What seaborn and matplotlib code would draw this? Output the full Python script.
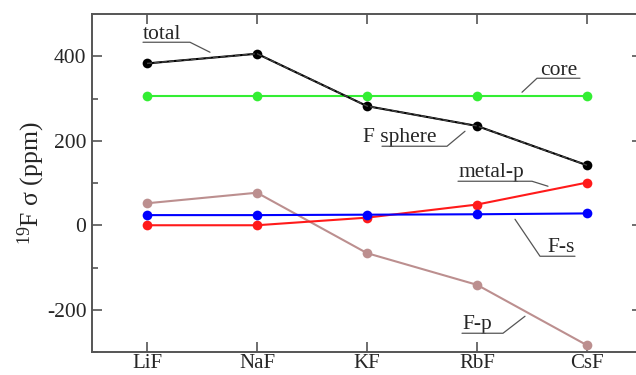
import pandas as pd
import seaborn as sns
import matplotlib.pyplot as plt

salts = ["LiF", "NaF", "KF", "RbF", "CsF"]
total = [383, 406, 282, 235, 142]
f_sphere = [383, 406, 282, 235, 142]
core = [306, 306, 306, 306, 306]
metal_p = [0, 0, 18, 49, 101]
f_s = [24, 24, 25, 26, 28]
f_p = [52, 77, -66, -141, -284]

series = {
    "F-p": f_p,
    "metal-p": metal_p,
    "F-s": f_s,
    "core": core,
    "total": total,
}
colors = {
    "F-p": "#bc8f8f",
    "metal-p": "#ff1a1a",
    "F-s": "#0000ff",
    "core": "#33ee33",
    "total": "#000000",
}

rows = []
for name, vals in series.items():
    for i, v in enumerate(vals):
        rows.append({"pos": i, "value": v, "series": name})
df = pd.DataFrame(rows)

sns.set_style("ticks")
plt.rcParams["font.family"] = ["Liberation Serif", "DejaVu Serif"]
plt.rcParams["mathtext.fontset"] = "custom"
plt.rcParams["mathtext.rm"] = "Liberation Serif"
plt.rcParams["axes.unicode_minus"] = False

fig = plt.figure(figsize=(6.36, 3.75), dpi=100)
ax = fig.add_axes([92 / 636, 23 / 375, 550 / 636, 338 / 375])

sns.lineplot(data=df, x="pos", y="value", hue="series", palette=colors,
             marker="o", markersize=7, markeredgewidth=0, linewidth=1.5,
             legend=False, ax=ax, zorder=3)
sns.lineplot(x=list(range(len(salts))), y=f_sphere, color="#444444",
             linestyle="--", linewidth=1.0, ax=ax, zorder=4)

ax.set_xlim(-0.5, 4.5)
ax.set_ylim(-300, 500)
ax.set_xticks(range(len(salts)))
ax.set_xticklabels(salts)
ax.set_yticks([-200, 0, 200, 400])
ax.set_yticks([-300, -100, 100, 300], minor=True)
ax.tick_params(which="both", direction="in", top=True, right=True,
               labelsize=15.5, color="#555555", width=1.2)
ax.tick_params(which="major", length=7, pad=4)
ax.tick_params(which="minor", length=4)
ax.tick_params(axis="x", which="major", labelsize=15, pad=1.5)
for sp in ax.spines.values():
    sp.set_color("#555555")
    sp.set_linewidth(1.4)
ax.set_xlabel("")
ax.set_ylabel(r"$\mathrm{^{19}}$F σ (ppm)", fontsize=18.5, labelpad=0)


def px(x, y):
    return ((x - 147) / 110, 400 - (y - 57) * 200 / 84.5)


def label(text, tx, ty, pts, fs=15.5):
    x, y = px(tx, ty)
    ax.text(x, y, text, fontsize=fs, ha="left", va="baseline", zorder=5)
    xs, ys = zip(*[px(a, b) for a, b in pts])
    ax.plot(xs, ys, color="#555555", linewidth=0.9, zorder=5)


label("total", 143, 40, [(143, 43), (190, 43), (210, 53)])
label("core", 540, 76, [(580, 79), (537, 79), (522, 93)])
label("F sphere", 363, 143, [(382, 147), (447, 147), (465, 132)])
label("metal-p", 458, 178, [(458, 182), (532, 182), (548, 187)])
label("F-s", 547, 253, [(575, 257), (540, 257), (515, 220)])
label("F-p", 462, 330, [(462, 334), (503, 334), (525, 317)])

fig.savefig("out.png", dpi=100)
